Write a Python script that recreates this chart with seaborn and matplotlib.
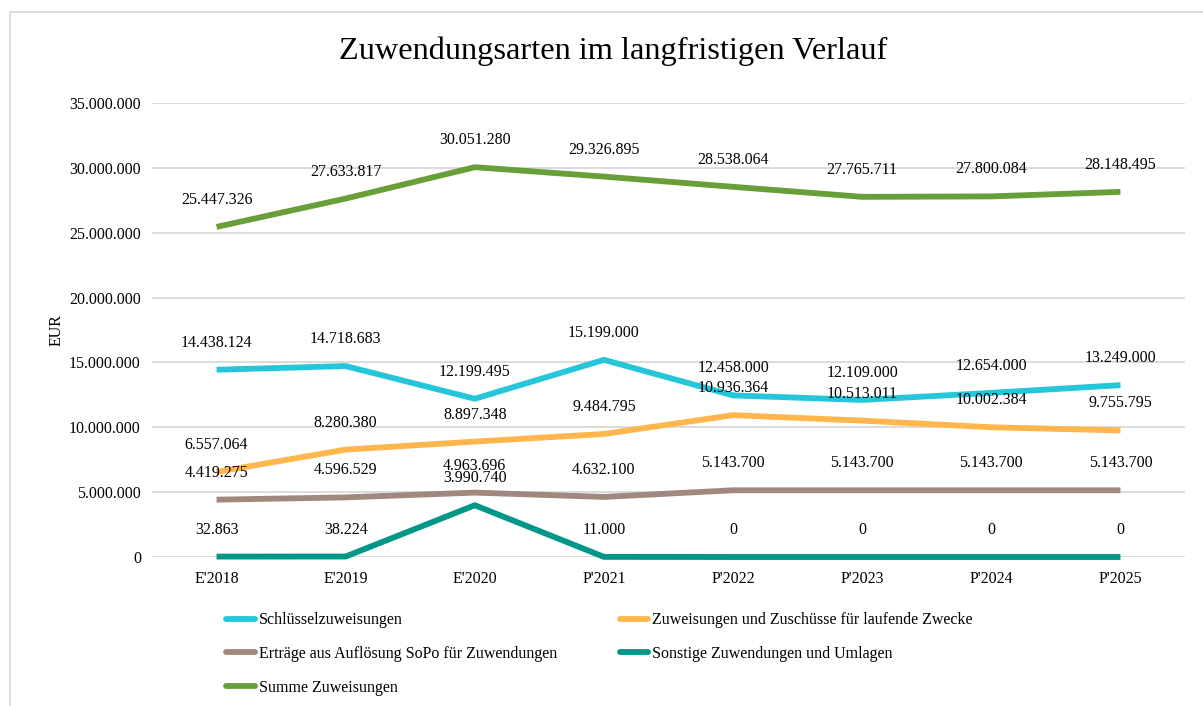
import pandas as pd
import matplotlib.pyplot as plt
import matplotlib.patches as mpatches
import seaborn as sns

# data
years = ["E'2018", "E'2019", "E'2020", "P'2021", "P'2022", "P'2023", "P'2024", "P'2025"]
schluessel = [14438124, 14718683, 12199495, 15199000, 12458000, 12109000, 12654000, 13249000]
zuschuesse = [6557064, 8280380, 8897348, 9484795, 10936364, 10513011, 10002384, 9755795]
ertraege = [4419275, 4596529, 4963696, 4632100, 5143700, 5143700, 5143700, 5143700]
sonstige = [32863, 38224, 3990740, 11000, 0, 0, 0, 0]
summe = [25447326, 27633817, 30051280, 29326895, 28538064, 27765711, 27800084, 28148495]

series_names = ["Schlüsselzuweisungen",
                "Zuweisungen und Zuschüsse für laufende Zwecke",
                "Erträge aus Auflösung SoPo für Zuwendungen",
                "Sonstige Zuwendungen und Umlagen",
                "Summe Zuweisungen"]
series_vals = [schluessel, zuschuesse, ertraege, sonstige, summe]
colors = ["#26C6DA", "#FFB74D", "#A1887F", "#009688", "#689F38"]

rows = []
for name, vals in zip(series_names, series_vals):
    for i, (y, v) in enumerate(zip(years, vals)):
        rows.append({"Jahr": y, "pos": i, "Serie": name, "Wert": v})
df = pd.DataFrame(rows)

sns.set_style("white")
plt.rcParams['font.family'] = ['Liberation Serif', 'DejaVu Serif']
plt.rcParams['text.color'] = 'black'
plt.rcParams['xtick.color'] = 'black'
plt.rcParams['ytick.color'] = 'black'
plt.rcParams['axes.labelcolor'] = 'black'

def fmt(v):
    return f"{v:,.0f}".replace(",", ".")

fig = plt.figure(figsize=(12.03, 7.06), dpi=100)
ax = fig.add_axes([152 / 1203, 1 - 557 / 706, (1185 - 152) / 1203, (557 - 103) / 706])

sns.lineplot(data=df, x="pos", y="Wert", hue="Serie", hue_order=series_names,
             palette=colors, linewidth=4.2, ax=ax, legend=False, sort=False)
for line in ax.lines:
    line.set_clip_on(False)
    line.set_solid_capstyle("butt")

# data labels above each point
for name, vals in zip(series_names, series_vals):
    for i, v in enumerate(vals):
        ax.annotate(fmt(v), (i, v), xytext=(0, 27), textcoords="offset pixels",
                    ha="center", va="center", fontsize=11.5, color="black")

ax.set_xlim(-0.5, len(years) - 0.5)
ax.set_ylim(0, 35000000)
ax.set_yticks(range(0, 35000001, 5000000))
ax.set_yticklabels([fmt(t) for t in range(0, 35000001, 5000000)], fontsize=11.5)
ax.set_xticks(range(len(years)))
ax.set_xticklabels(years, fontsize=11.5)
ax.tick_params(axis="x", length=0, pad=10)
ax.tick_params(axis="y", length=0, pad=8)
ax.yaxis.grid(True, color="#d9d9d9", linewidth=1.3)
ax.set_axisbelow(True)
for s in ax.spines.values():
    s.set_visible(False)
ax.set_xlabel("")
ax.set_ylabel("EUR", fontsize=11.5)
ax.yaxis.set_label_coords(-0.085, 0.5)

fig.text(0.51, 1 - 51 / 706, "Zuwendungsarten im langfristigen Verlauf",
         ha="center", va="center", fontsize=23.3)

# legend, row-major order like the original
handles = [plt.Line2D([], [], color=c, linewidth=4.2, solid_capstyle="round") for c in colors]
order = [0, 2, 4, 1, 3]
fig.legend([handles[i] for i in order], [series_names[i] for i in order],
           ncol=2, loc="upper left", bbox_to_anchor=(212 / 1203, 1 - 598 / 706),
           frameon=False, fontsize=11.5, handlelength=1.8, handletextpad=0.25,
           columnspacing=3.9, labelspacing=1.1)

# outer chart frame
fig.patches.append(mpatches.Rectangle((10 / 1203, -0.1), 1.2, 1 - 12 / 706 + 0.1,
                                      transform=fig.transFigure, fill=False,
                                      edgecolor="#d9d9d9", linewidth=1.3))

fig.savefig("out.png", dpi=100)
